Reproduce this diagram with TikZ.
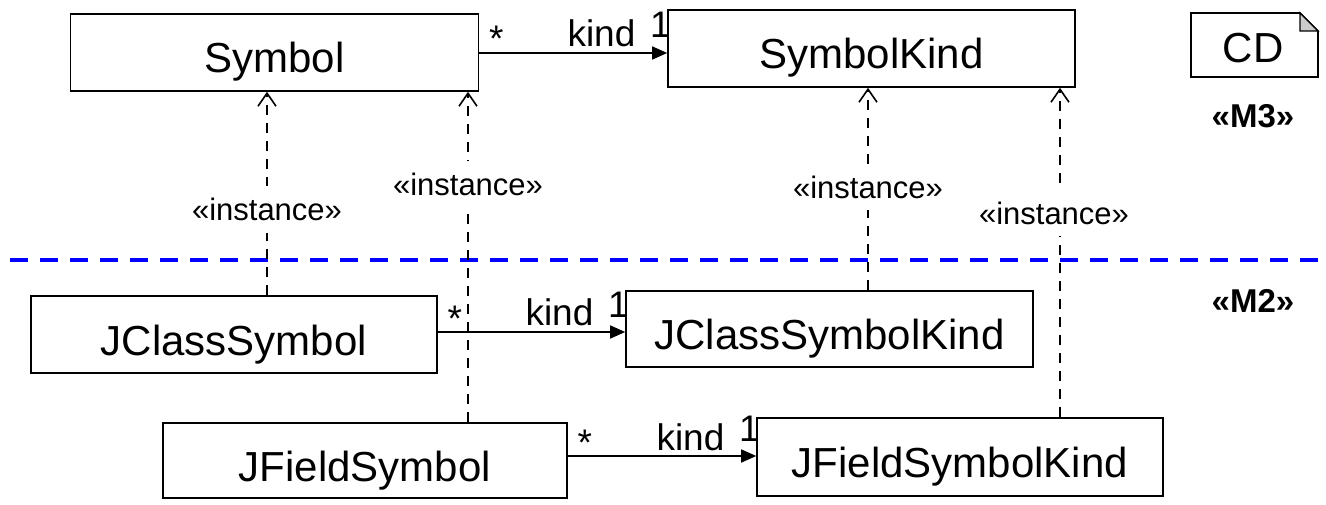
\documentclass[tikz,border=0pt]{standalone}
\usepackage{fontspec}
\setmainfont{Liberation Sans}
\usetikzlibrary{arrows.meta}
\begin{document}
\begin{tikzpicture}[x=1pt,y=-1pt,
  cls/.style={draw, line width=1.6pt, inner sep=0pt,
    text height=41pt, text depth=0pt, font=\fontsize{42}{50}\selectfont},
  assoc/.style={line width=1.6pt, -{Triangle[length=15pt,width=13pt]}},
  inst/.style={line width=1.6pt, dash pattern=on 10pt off 8pt,
    -{Straight Barb[length=13pt,width=18pt,line width=1.6pt]}},
  end/.style={font=\fontsize{37}{44}\selectfont, inner sep=0pt},
  stlbl/.style={font=\fontsize{31}{38}\selectfont, fill=white,
    inner xsep=3pt, inner ysep=12pt},
  lvl/.style={font=\fontsize{33}{40}\selectfont\bfseries}
]
\useasboundingbox (0,0) rectangle (1326,505);

% level separator
\draw[blue, line width=4pt, dash pattern=on 18pt off 12pt] (10,260) -- (1326,260);

% classes (given by their corners)
\node[cls, minimum width=408pt, minimum height=77pt] (sym)  at (274.5,52.5) {Symbol};
\node[cls, minimum width=407pt, minimum height=77pt] (symk) at (871.5,48.5) {SymbolKind};
\node[cls, minimum width=406pt, minimum height=77pt] (jcs)  at (234,334.5) {JClassSymbol};
\node[cls, minimum width=407pt, minimum height=76pt] (jcsk) at (829.5,329) {JClassSymbolKind};
\node[cls, minimum width=404pt, minimum height=75pt] (jfs)  at (365,460.5) {JFieldSymbol};
\node[cls, minimum width=406pt, minimum height=78pt] (jfsk) at (960,457)   {JFieldSymbolKind};

% diagram tag
\draw[line width=1.6pt, fill=white] (1191,13) -- (1300,13) -- (1318,31) -- (1318,77) -- (1191,77) -- cycle;
\draw[line width=1.2pt, fill=gray!40] (1300,13) -- (1300,31) -- (1318,31) -- cycle;
\node[font=\fontsize{42}{50}\selectfont, inner sep=0pt, anchor=base] (cd) at (1253,63) {CD};
\node[lvl] (m3) at (1253,116) {«M3»};
\node[lvl] (m2) at (1253,301) {«M2»};

% kind associations
\draw[assoc] (sym.east |- 0,53) -- (symk.west |- 0,53)
  node[end, pos=0, anchor=base west, xshift=9pt, yshift=1pt] (s1) {*}
  node[end, pos=1, anchor=base east, xshift=-31pt, yshift=6pt] (k1) {kind}
  node[end, pos=1, anchor=base west, xshift=-18pt, yshift=15pt] (o1) {1};
\draw[assoc] (jcs.east |- 0,332) -- (jcsk.west |- 0,332)
  node[end, pos=0, anchor=base west, xshift=9pt, yshift=1pt] (s2) {*}
  node[end, pos=1, anchor=base east, xshift=-31pt, yshift=6pt] (k2) {kind}
  node[end, pos=1, anchor=base west, xshift=-18pt, yshift=15pt] (o2) {1};
\draw[assoc] (jfs.east |- 0,456) -- (jfsk.west |- 0,456)
  node[end, pos=0, anchor=base west, xshift=9pt, yshift=1pt] (s3) {*}
  node[end, pos=1, anchor=base east, xshift=-31pt, yshift=6pt] (k3) {kind}
  node[end, pos=1, anchor=base west, xshift=-18pt, yshift=15pt] (o3) {1};

% instance dependencies
\draw[inst] (267,0 |- jcs.north) -- (267,0 |- sym.south)
  node[stlbl, pos=0.42] (i1) {«instance»};
\draw[inst] (468,0 |- jfs.north) -- (468,0 |- sym.south)
  node[stlbl, pos=0.72] (i2) {«instance»};
\draw[inst] (868,0 |- jcsk.north) -- (868,0 |- symk.south)
  node[stlbl, pos=0.51] (i3) {«instance»};
\draw[inst] (1060,0 |- jfsk.north) -- (1060,0 |- symk.south)
  node[stlbl, pos=0.62, xshift=-6pt] (i4) {«instance»};
\end{tikzpicture}
\end{document}
